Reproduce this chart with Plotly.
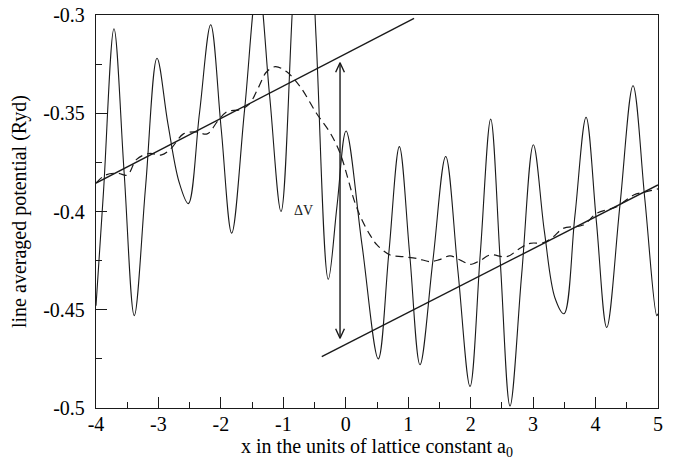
import plotly.graph_objects as go

# Line-averaged potential along x (solid curve)
pot_x = [-4.000, -3.880, -3.712, -3.550, -3.387, -3.205, -3.023, -2.850, -2.670, -2.522,
         -2.343, -2.163, -1.995, -1.827, -1.620, -1.406, -1.220, -1.037, -0.853, -0.669,
         -0.475, -0.280, -0.140, 0.004, 0.260, 0.521, 0.690, 0.858, 1.024, 1.189,
         1.395, 1.600, 1.795, 1.990, 2.155, 2.321, 2.475, 2.630, 2.817, 3.004,
         3.180, 3.350, 3.495, 3.670, 3.848, 4.013, 4.179, 4.390, 4.600, 4.790,
         4.980, 5.000]
pot_y = [-0.448, -0.390, -0.307, -0.380, -0.453, -0.387, -0.322, -0.355, -0.385, -0.396,
         -0.350, -0.305, -0.358, -0.411, -0.348, -0.282, -0.341, -0.400, -0.296, -0.190,
         -0.312, -0.4345, -0.397, -0.359, -0.417, -0.475, -0.421, -0.367, -0.422, -0.478,
         -0.425, -0.372, -0.430, -0.489, -0.421, -0.353, -0.426, -0.499, -0.432, -0.366,
         -0.410, -0.444, -0.452, -0.402, -0.352, -0.405, -0.459, -0.397, -0.336, -0.394,
         -0.453, -0.452]

# Macroscopic average of the potential (dashed curve)
avg_x = [-4.00, -3.85, -3.65, -3.50, -3.35, -3.15, -2.95, -2.80, -2.60, -2.40,
         -2.22, -2.05, -1.90, -1.70, -1.55, -1.40, -1.27, -1.13, -0.95, -0.73,
         -0.47, -0.25, -0.09, 0.15, 0.26, 0.39, 0.50, 0.71, 0.92, 1.15,
         1.35, 1.50, 1.67, 1.85, 1.99, 2.15, 2.31, 2.58, 2.79, 2.95,
         3.16, 3.32, 3.48, 3.80, 4.02, 4.34, 4.61, 4.80, 5.00]
avg_y = [-0.3855, -0.3815, -0.3805, -0.3815, -0.3735, -0.3705, -0.3712, -0.3680, -0.3605, -0.3595,
         -0.3605, -0.3540, -0.3492, -0.3482, -0.3455, -0.3370, -0.3290, -0.3263, -0.3288, -0.3365,
         -0.3500, -0.3600, -0.3704, -0.3958, -0.4043, -0.4120, -0.4170, -0.4221, -0.4230, -0.4240,
         -0.4255, -0.4245, -0.4226, -0.4250, -0.4269, -0.4250, -0.4221, -0.4230, -0.4187, -0.4162,
         -0.4159, -0.4130, -0.4086, -0.4069, -0.4009, -0.3975, -0.3916, -0.3900, -0.3885]

# Linear fits on each side of the interface
fit_left_x = [-4.0, 1.093]
fit_left_y = [-0.3855, -0.3017]
fit_right_x = [-0.385, 5.0]
fit_right_y = [-0.4739, -0.3865]

# Potential step marker (double-headed arrow) and its label
dv_x = -0.092
dv_top = -0.3243
dv_bottom = -0.4645
dv_label_x = -0.685
dv_label_y = -0.3997
head_half_width = 0.07   # in x units
head_length = 0.0048     # in y units

x_tickvals = [-4, -3, -2, -1, 0, 1, 2, 3, 4, 5]
x_ticktext = ["-4", "-3", "-2", "-1", "0", "1", "2", "3", "4", "5"]
y_tickvals = [-0.5, -0.45, -0.4, -0.35, -0.3]
y_ticktext = ["-0.5", "-0.45", "-0.4", "-0.35", "-0.3"]

SERIF = "Liberation Serif, Times New Roman, serif"
INK = "#1a1a1a"

fig = go.Figure()
fig.add_trace(go.Scatter(x=pot_x, y=pot_y, mode="lines",
                         line=dict(color=INK, width=1.1, shape="spline", smoothing=1.0)))
fig.add_trace(go.Scatter(x=avg_x, y=avg_y, mode="lines",
                         line=dict(color=INK, width=1.2, dash="8px,5px", shape="spline", smoothing=1.0)))
fig.add_trace(go.Scatter(x=fit_left_x, y=fit_left_y, mode="lines",
                         line=dict(color=INK, width=1.4)))
fig.add_trace(go.Scatter(x=fit_right_x, y=fit_right_y, mode="lines",
                         line=dict(color=INK, width=1.4)))

# shaft plus open V heads at both ends
arrow_x = [dv_x, dv_x, None,
           dv_x - head_half_width, dv_x, dv_x + head_half_width, None,
           dv_x - head_half_width, dv_x, dv_x + head_half_width]
arrow_y = [dv_top, dv_bottom, None,
           dv_top - head_length, dv_top, dv_top - head_length, None,
           dv_bottom + head_length, dv_bottom, dv_bottom + head_length]
fig.add_trace(go.Scatter(x=arrow_x, y=arrow_y, mode="lines",
                         line=dict(color=INK, width=1.4)))

fig.add_annotation(x=dv_label_x, y=dv_label_y, xref="x", yref="y",
                   text="ΔV", showarrow=False,
                   font=dict(family=SERIF, size=14, color=INK))

axis_common = dict(
    showgrid=False, zeroline=False, showline=True, mirror=True,
    linecolor=INK, linewidth=1.3, ticks="inside", tickcolor=INK,
    tickwidth=1.2, ticklen=11,
    tickfont=dict(family=SERIF, size=20, color="black"),
)

fig.update_xaxes(range=[-4, 5], tickvals=x_tickvals, ticktext=x_ticktext,
                 minor=dict(ticks="inside", dtick=0.5, tick0=-4, ticklen=6,
                            tickwidth=1.2, tickcolor=INK),
                 title=dict(text="x in the units of lattice constant a<sub>0</sub>",
                            font=dict(family=SERIF, size=20, color="black"), standoff=0),
                 ticklabelstandoff=-2,
                 **axis_common)
fig.update_yaxes(range=[-0.5, -0.3], tickvals=y_tickvals, ticktext=y_ticktext,
                 minor=dict(ticks="inside", dtick=0.025, tick0=-0.5, ticklen=6,
                            tickwidth=1.2, tickcolor=INK),
                 title=dict(text="line averaged potential (Ryd)",
                            font=dict(family=SERIF, size=20, color="black"), standoff=11),
                 ticklabelstandoff=6,
                 **axis_common)

fig.update_layout(width=679, height=470,
                  margin=dict(l=96, r=21, t=15, b=62, autoexpand=False),
                  paper_bgcolor="white", plot_bgcolor="white",
                  showlegend=False)

fig.write_html("out.html")
